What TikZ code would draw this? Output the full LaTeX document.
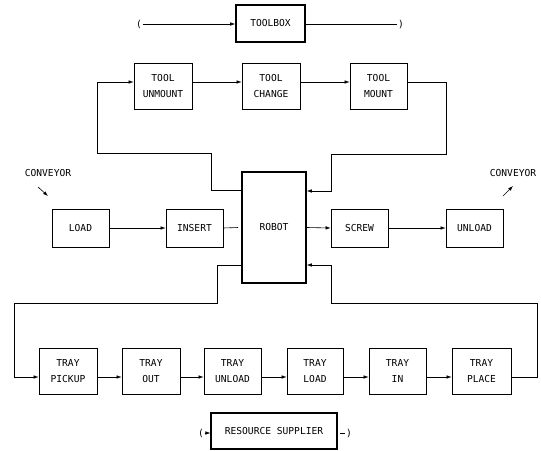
\documentclass[tikz,border=0pt]{standalone}
\usepackage{fontspec}
\setmonofont{DejaVu Sans Mono}
\usetikzlibrary{arrows.meta,calc}
\begin{document}
\begin{tikzpicture}[x=1pt,y=-1pt,
  lbl/.style={font=\ttfamily\fontsize{9.6}{16}\selectfont},
  box/.style={draw,line width=0.7pt,inner sep=0pt,align=center,lbl},
  thickbox/.style={box,line width=1.6pt},
  brk/.style={lbl,inner sep=0.5pt},
  conn/.style={line width=0.6pt},
  arr/.style={conn,-{Latex[length=5pt,width=3.5pt]}},
  ]
\useasboundingbox (0,0) rectangle (541,450);

% supply boxes
\node[thickbox,minimum width=69pt,minimum height=37pt] (toolbox) at (270.5,23.5) {TOOLBOX};
\node[box,line width=1.1pt,minimum width=126pt,minimum height=36pt] (supplier) at (274,431) {RESOURCE SUPPLIER};

% tool row
\node[box,minimum width=58pt,minimum height=46pt] (unmount) at (163,86) {TOOL\\UNMOUNT};
\node[box,minimum width=58pt,minimum height=46pt] (change) at (271,86) {TOOL\\CHANGE};
\node[box,minimum width=57pt,minimum height=46pt] (mount) at (378.5,86) {TOOL\\MOUNT};

% middle row
\node[thickbox,minimum width=64pt,minimum height=111pt] (robot) at (274,227.5) {ROBOT};
\node[box,minimum width=57pt,minimum height=38pt] (load) at (80.5,228) {LOAD};
\node[box,minimum width=57pt,minimum height=38pt] (insert) at (194.5,228) {INSERT};
\node[box,minimum width=57pt,minimum height=38pt] (screw) at (359.5,228) {SCREW};
\node[box,minimum width=57pt,minimum height=38pt] (unload) at (474.5,228) {UNLOAD};

% tray row
\node[box,minimum width=58pt,minimum height=46pt] (tpick) at (68,371) {TRAY\\PICKUP};
\node[box,minimum width=58pt,minimum height=46pt] (tout) at (151,371) {TRAY\\OUT};
\node[box,minimum width=57pt,minimum height=46pt] (tunload) at (232.5,371) {TRAY\\UNLOAD};
\node[box,minimum width=56pt,minimum height=46pt] (tload) at (315,371) {TRAY\\LOAD};
\node[box,minimum width=57pt,minimum height=46pt] (tin) at (397.5,371) {TRAY\\IN};
\node[box,minimum width=59pt,minimum height=46pt] (tplace) at (481.5,371) {TRAY\\PLACE};

% conveyor labels
\node[lbl] (convL) at (48,173) {CONVEYOR};
\node[lbl] (convR) at (513,173) {CONVEYOR};
\coordinate (cLa) at (38,187); \coordinate (cLb) at (48,196);
\coordinate (cRa) at (503,196); \coordinate (cRb) at (513,186);
\draw[arr] (cLa) -- (cLb);
\draw[arr] (cRa) -- (cRb);

% bracket ends of the supply lines
\node[brk] (tbl) at (139,24) {(};
\node[brk] (tbr) at (401,24) {)};
\node[brk] (spl) at (201,433) {(};
\node[brk] (spr) at (349,433) {)};
\draw[arr] (tbl.east) -- (toolbox.west |- tbl.east);
\draw[conn] (toolbox.east |- tbr.west) -- (tbr.west);
\draw[arr] (spl.east) -- (supplier.west |- spl.east);
\coordinate (dashA) at (340,433); \coordinate (dashB) at (345,433);
\draw[conn] (dashA) -- (dashB);

% tool change loop
\draw[arr] ($(robot.north west)+(0,19)$) -| (211,153) -| (97,82) -- (unmount.west |- 0,82);
\draw[arr] (unmount.east |- 0,82) -- (change.west |- 0,82);
\draw[arr] (change.east |- 0,82) -- (mount.west |- 0,82);
\draw[arr] (mount.east |- 0,82) -| (446,154) -| (331,191) -- (robot.east |- 0,191);

% assembly line
\draw[arr] (load) -- (insert);
\draw[conn] (insert.east) -- ($(robot.west)+(-3,0)$);
\draw[arr] (robot.east) -- (screw.west);
\draw[arr] (screw) -- (unload);

% tray loop
\draw[arr] (robot.west |- 0,265) -| (217,303) -| (14,377) -- (tpick.west |- 0,377);
\draw[arr] (tpick.east |- 0,377) -- (tout.west |- 0,377);
\draw[arr] (tout.east |- 0,377) -- (tunload.west |- 0,377);
\draw[arr] (tunload.east |- 0,377) -- (tload.west |- 0,377);
\draw[arr] (tload.east |- 0,377) -- (tin.west |- 0,377);
\draw[arr] (tin.east |- 0,377) -- (tplace.west |- 0,377);
\draw[arr] (tplace.east |- 0,377) -| (537,303) -| (331,265) -- (robot.east |- 0,265);
\end{tikzpicture}
\end{document}
